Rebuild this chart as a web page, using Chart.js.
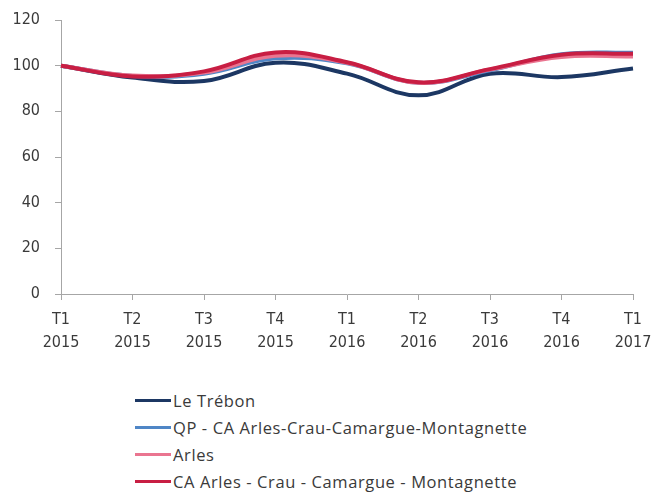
<!DOCTYPE html>
<html>
<head>
<meta charset="utf-8">
<script src="https://cdn.jsdelivr.net/npm/chart.js@4/dist/chart.umd.min.js"></script>
<style>
  html, body { margin: 0; padding: 0; background: #fff; }
  #wrap { position: relative; width: 653px; height: 492px; }
  #box { position: absolute; left: 0; top: 0; width: 653px; height: 380px; }
  #legend { position: absolute; left: 135px; top: 387px; font-family: "Open Sans", Lato, sans-serif; font-size: 16.5px; letter-spacing: 0.6px; color: #3a3a3a; }
  .leg-item { height: 27px; display: flex; align-items: center; }
  .leg-line { width: 36px; height: 3px; margin-right: 2px; }
</style>
</head>
<body>
<div id="wrap">
  <div id="box"><canvas id="chart"></canvas></div>
  <div id="legend"></div>
</div>
<script>
// trimestres (axe x, sur deux lignes)
const quarters = ['T1', 'T2', 'T3', 'T4', 'T1', 'T2', 'T3', 'T4', 'T1'];
const years = ['2015', '2015', '2015', '2015', '2016', '2016', '2016', '2016', '2017'];

// indices base 100 au T1 2015
const trebon = [100, 94.8, 93.3, 101.3, 96.5, 87, 96.5, 95, 98.8];
const qpCa = [100, 95.5, 96.5, 103.2, 101, 92.5, 98, 105, 105.7];
const arles = [100, 95.7, 97, 104.3, 101.3, 92.5, 98.3, 103.8, 104];
const caArles = [100, 95.3, 97.5, 105.8, 101.5, 92.7, 98.5, 104.8, 105.2];

const series = [
    { label: 'Le Trébon', data: trebon, color: '#1c3763', order: 4 },
    { label: 'QP - CA Arles-Crau-Camargue-Montagnette', data: qpCa, color: '#4f86c6', order: 3 },
    { label: 'Arles', data: arles, color: '#ea7590', order: 2 },
    { label: 'CA Arles - Crau - Camargue - Montagnette', data: caArles, color: '#c81e43', order: 1 }
];

const axisGrey = '#a6a6a6';
const tickFont = { family: '"DejaVu Sans Condensed", "Liberation Sans Narrow", Lato, sans-serif', size: 16, lineHeight: 1.45 };

new Chart(document.getElementById('chart'), {
    type: 'line',
    data: {
        labels: quarters.map((q, i) => [q, years[i]]),
        datasets: series.map(s => ({
            label: s.label, data: s.data, borderColor: s.color, backgroundColor: s.color,
            borderWidth: 4, pointRadius: 0, tension: 0.4, fill: false, order: s.order
        }))
    },
    options: {
        responsive: true, maintainAspectRatio: false, animation: false,
        layout: { padding: { top: 0, right: 0, left: 0, bottom: 0 } },
        plugins: { legend: { display: false }, tooltip: { enabled: false } },
        scales: {
            x: {
                offset: false,
                grid: { drawOnChartArea: false, drawTicks: true, tickLength: 6, color: axisGrey },
                border: { color: axisGrey, width: 1 },
                ticks: { color: '#3a3a3a', font: tickFont, padding: 8, maxRotation: 0, autoSkip: false },
                afterFit: (scale) => { scale.height = 86; scale.paddingRight = 20; }
            },
            y: {
                min: 0, max: 120,
                grid: { drawOnChartArea: false, drawTicks: true, tickLength: 6, color: axisGrey },
                border: { color: axisGrey, width: 1 },
                ticks: { stepSize: 20, color: '#3a3a3a', font: tickFont, padding: 15 },
                afterFit: (scale) => { scale.width = 61; scale.paddingTop = 20; }
            }
        }
    }
});

// légende verticale en HTML
document.getElementById('legend').innerHTML = series.map(s =>
    `<div class="leg-item"><span class="leg-line" style="background:${s.color}"></span>${s.label}</div>`
).join('');
</script>
</body>
</html>
